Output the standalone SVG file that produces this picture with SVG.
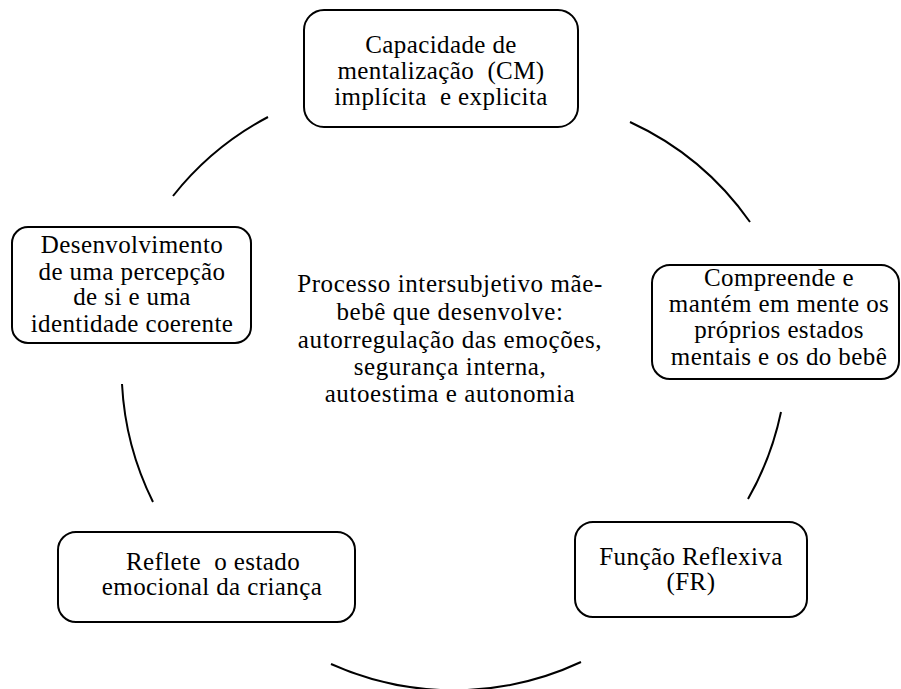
<svg xmlns="http://www.w3.org/2000/svg" width="901" height="689" viewBox="0 0 901 689">
<style>
.box{fill:#fff;stroke:#000;stroke-width:2}
.t{font-family:'Liberation Serif','DejaVu Serif',serif;font-size:25px;letter-spacing:0.4px;fill:#000;text-anchor:middle}
.c{letter-spacing:0.6px}
.arc{fill:none;stroke:#000;stroke-width:2}
</style>
<rect width="901" height="689" fill="#fff"/>
<g id="connectors">
<path class="arc" d="M173,196 A300,300 0 0 1 268,117"/>
<path class="arc" d="M630,122 A300,300 0 0 1 750,222"/>
<path class="arc" d="M781,412 A300,300 0 0 1 748,499"/>
<path class="arc" d="M581,662 A300,300 0 0 1 331,664"/>
<path class="arc" d="M153,502 A300,300 0 0 1 122,384"/>
</g>
<g id="center">
<text class="t c" x="450" y="292">Processo intersubjetivo mãe-</text>
<text class="t c" x="450" y="320">bebê que desenvolve:</text>
<text class="t c" x="450" y="348">autorregulação das emoções,</text>
<text class="t c" x="450" y="375">segurança interna,</text>
<text class="t c" x="450" y="402">autoestima e autonomia</text>
</g>
<g id="cm">
<rect class="box" x="304" y="10" width="274" height="117" rx="20"/>
<text class="t" x="441" y="53">Capacidade de</text>
<text class="t" x="441" y="79" xml:space="preserve">mentalização  (CM)</text>
<text class="t" x="441" y="105" xml:space="preserve">implícita  e explicita</text>
</g>
<g id="compreende">
<rect class="box" x="652" y="265" width="247" height="114" rx="18"/>
<text class="t" x="779" y="286">Compreende e</text>
<text class="t" x="779" y="312">mantém em mente os</text>
<text class="t" x="779" y="338">próprios estados</text>
<text class="t" x="779" y="365">mentais e os do bebê</text>
</g>
<g id="fr">
<rect class="box" x="575" y="522" width="232" height="95" rx="18"/>
<text class="t" x="691" y="565">Função Reflexiva</text>
<text class="t" x="691" y="590">(FR)</text>
</g>
<g id="reflete">
<rect class="box" x="58" y="532" width="297" height="90" rx="18"/>
<text class="t" x="213" y="570" xml:space="preserve">Reflete  o estado</text>
<text class="t" x="212" y="595">emocional da criança</text>
</g>
<g id="desenvolvimento">
<rect class="box" x="12" y="227" width="239" height="116" rx="16"/>
<text class="t" x="132" y="253">Desenvolvimento</text>
<text class="t" x="132" y="280">de uma percepção</text>
<text class="t" x="132" y="305">de si e uma</text>
<text class="t" x="132" y="332">identidade coerente</text>
</g>
</svg>
